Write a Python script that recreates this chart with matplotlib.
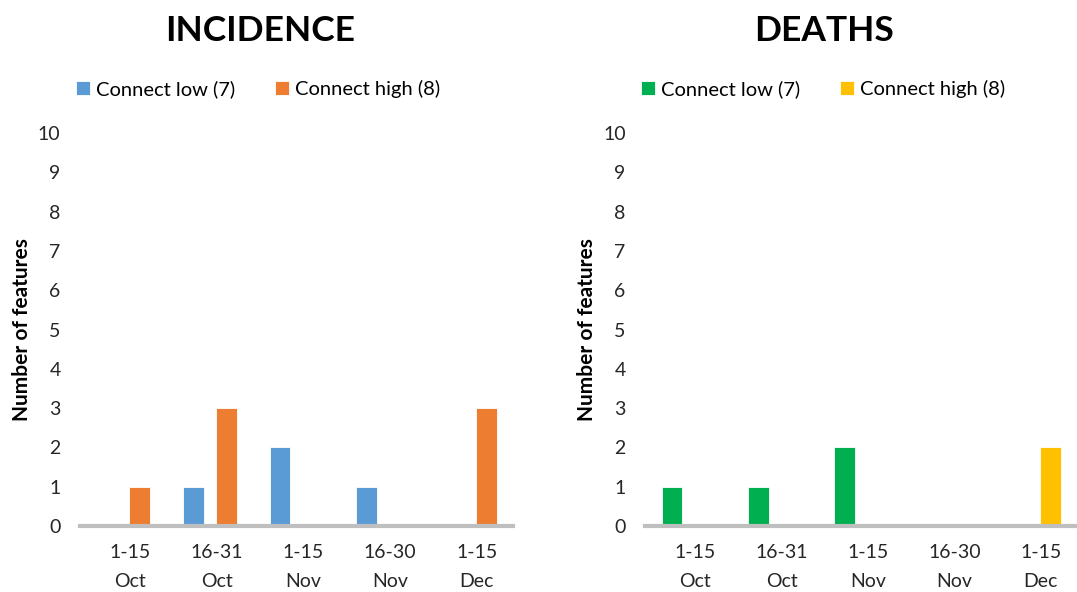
import matplotlib
matplotlib.use("Agg")
import matplotlib.pyplot as plt
import numpy as np

categories = ["1-15\nOct", "16-31\nOct", "1-15\nNov", "16-30\nNov", "1-15\nDec"]
incidence_low = [0, 1, 2, 1, 0]
incidence_high = [1, 3, 0, 0, 3]
deaths_low = [1, 1, 2, 0, 0]
deaths_high = [0, 0, 0, 0, 2]
labels = ["Connect low (7)", "Connect high (8)"]

plt.rcParams['font.family'] = ['Lato', 'DejaVu Sans']

fig = plt.figure(figsize=(10.77, 5.92), dpi=100)
ax1 = fig.add_axes([0.0743, 0.1115, 0.402, 0.6638])
ax2 = fig.add_axes([0.599, 0.1115, 0.401, 0.6638])


def draw_panel(ax, low, high, colors, title):
    x = np.arange(len(categories))
    w = 0.24
    off = 0.19
    ax.bar(x - off, low, w, color=colors[0], label=labels[0],
           edgecolor='white', linewidth=0.6, zorder=2)
    ax.bar(x + off, high, w, color=colors[1], label=labels[1],
           edgecolor='white', linewidth=0.6, zorder=2)
    ax.set_xlim(-0.5, len(categories) - 0.5)
    ax.set_ylim(0, 10)
    ax.set_yticks(range(0, 11))
    ax.set_xticks(x + 0.08)
    ax.set_xticklabels(categories, fontsize=14, linespacing=1.85, color='#262626')
    ax.tick_params(axis='both', length=0, labelsize=14, colors='#262626')
    ax.tick_params(axis='x', pad=13)
    ax.tick_params(axis='y', pad=14)
    for s in ['top', 'right', 'left']:
        ax.spines[s].set_visible(False)
    ax.spines['bottom'].set_color('#BFBFBF')
    ax.spines['bottom'].set_linewidth(3)
    ax.spines['bottom'].set_zorder(3)
    ax.set_ylabel("Number of features", fontsize=15, fontweight='bold', labelpad=4)
    ax.set_title(title, fontsize=25.5, fontweight='bold', pad=66, x=0.415)
    ax.legend(loc='center left', bbox_to_anchor=(-0.01, 1.112), ncol=2,
              frameon=False, fontsize=14.5, handlelength=0.7, handleheight=0.7,
              handletextpad=0.3, columnspacing=2.0, borderaxespad=0, borderpad=0)


draw_panel(ax1, incidence_low, incidence_high, ['#5B9BD5', '#ED7D31'], "INCIDENCE")
draw_panel(ax2, deaths_low, deaths_high, ['#00B050', '#FFC000'], "DEATHS")

fig.savefig("out.png", dpi=100)
